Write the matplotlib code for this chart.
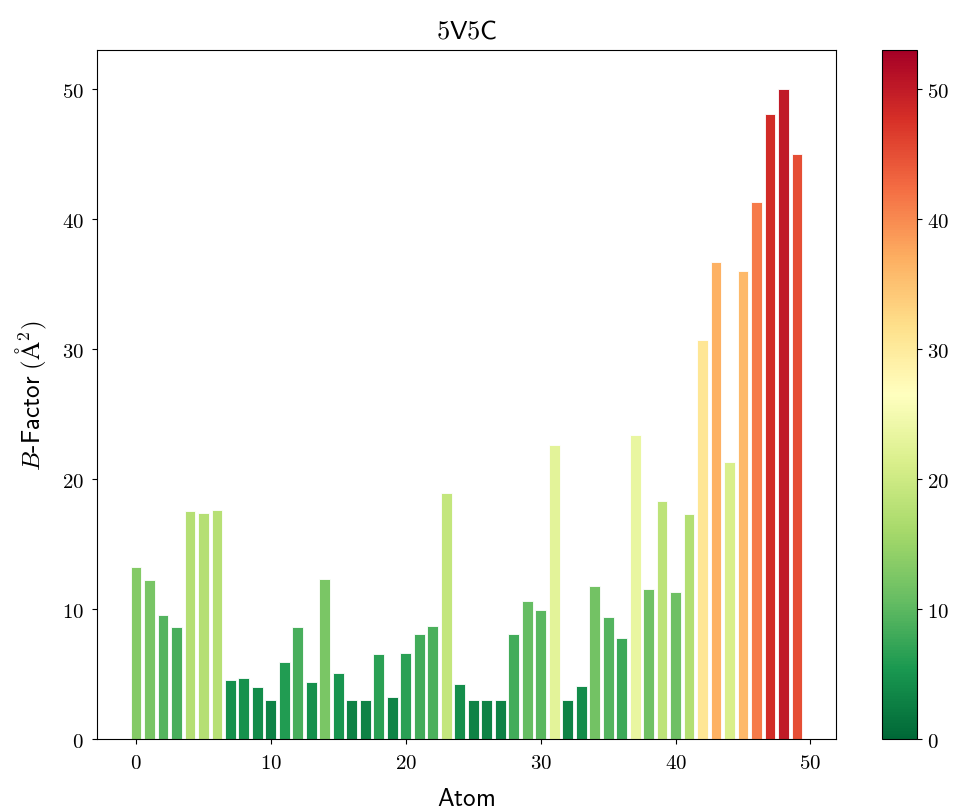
import numpy as np
import matplotlib
matplotlib.use("Agg")
import matplotlib.pyplot as plt
from matplotlib.ticker import FuncFormatter
from matplotlib.colors import Normalize
from matplotlib.cm import ScalarMappable

plt.rcParams["mathtext.fontset"] = "cm"

# B-factor per atom for 5V5C
atoms = np.arange(50)
bfactors = [
    13.2, 12.2, 9.5, 8.6, 17.5, 17.4, 17.6, 4.5, 4.7, 4.0,
    3.0, 5.9, 8.6, 4.4, 12.3, 5.1, 3.0, 3.0, 6.5, 3.2,
    6.6, 8.1, 8.7, 18.9, 4.2, 3.0, 3.0, 3.0, 8.1, 10.6,
    9.9, 22.6, 3.0, 4.1, 11.8, 9.4, 7.8, 23.4, 11.5, 18.3,
    11.3, 17.3, 30.7, 36.7, 21.3, 36.0, 41.3, 48.1, 50.0, 45.0,
]
vmin, vmax = 0, 53

fig = plt.figure(figsize=(9.64, 8.12), dpi=100)
ax = fig.add_axes([0.1006, 0.0887, 0.7666, 0.8485])
cax = fig.add_axes([0.915, 0.0887, 0.0363, 0.8485])

cmap = plt.get_cmap("RdYlGn_r")
norm = Normalize(vmin=vmin, vmax=vmax)
ax.bar(atoms, bfactors, width=0.8, color=cmap(norm(np.array(bfactors))),
       edgecolor="white", linewidth=0.6)
ax.set_ylim(vmin, vmax)

sm = ScalarMappable(norm=norm, cmap=cmap)
cb = fig.colorbar(sm, cax=cax)

fmt = FuncFormatter(lambda v, p: f"${v:g}$")
for a in (ax.xaxis, ax.yaxis, cb.ax.yaxis):
    a.set_major_formatter(fmt)
ax.tick_params(labelsize=15, pad=6)
cb.ax.tick_params(labelsize=15)

ax.set_title(r"$\mathsf{5V5C}$", fontsize=19, pad=9)
ax.set_xlabel(r"$\mathsf{Atom}$", fontsize=18, labelpad=10)
ax.set_ylabel(r"$B\mathsf{\text{-}Factor\ (\AA^2)}$", fontsize=18, labelpad=9)

fig.savefig("out.png", dpi=100)
